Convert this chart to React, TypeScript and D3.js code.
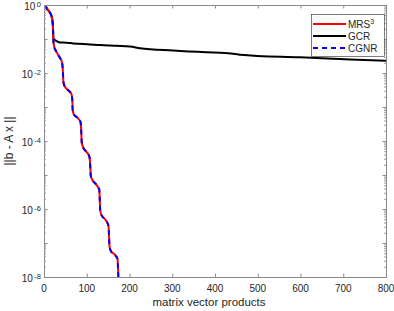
import React from "react";
import * as d3 from "d3";

// residual history: iteration count and log10 of ||b - Ax||
const mrsIter = [0, 10, 18, 21, 21.8, 23.4, 29.2, 37.4, 42.1, 44, 45.4, 48, 56, 64.3, 66.2, 67.1, 69.5, 78.4, 85.4, 87, 88.2, 91.2, 99.4, 106.4, 108, 109.5, 113.5, 122.8, 129.4, 130.5, 131.5, 134.5, 143.9, 150.9, 152, 153.2, 156.7, 166, 172, 173, 174];
const mrsLogRes = [0, -0.15, -0.35, -0.62, -1.03, -1.21, -1.38, -1.56, -1.68, -1.91, -2.26, -2.38, -2.5, -2.62, -2.79, -3.09, -3.21, -3.32, -3.44, -3.68, -4.03, -4.18, -4.32, -4.47, -4.71, -5.03, -5.15, -5.29, -5.44, -5.74, -6.03, -6.18, -6.32, -6.5, -6.76, -7.09, -7.24, -7.35, -7.47, -7.68, -8.05];

const gcrIter = [0, 2.3, 12.4, 18, 20.4, 21.8, 23.4, 29.7, 37.4, 53, 68.5, 107.6, 131, 170, 201, 224.6, 301.8, 380.6, 423, 458.5, 599, 716, 800];
const gcrLogRes = [0, -0.05, -0.2, -0.34, -0.54, -0.93, -1.01, -1.06, -1.1, -1.11, -1.13, -1.16, -1.18, -1.2, -1.22, -1.27, -1.34, -1.39, -1.41, -1.46, -1.54, -1.6, -1.64];

// CGNR lies on top of MRS^3
const cgnrIter = mrsIter;
const cgnrLogRes = mrsLogRes;

const xTicks = [0, 100, 200, 300, 400, 500, 600, 700, 800];
const yLabelExps = [0, -2, -4, -6, -8];

const W = 394;
const H = 311;
const margin = { top: 5, right: 8, bottom: 34, left: 44 };
const plotW = 386 - margin.left;
const plotH = 277 - margin.top;

const axisColor = "#262626";
const tickColor = "#8a8a8a";
const font = "'Liberation Sans', Arial, Helvetica, sans-serif";

export default function App() {
  const x = d3.scaleLinear().domain([0, 800]).range([0, plotW]);
  const y = d3.scaleLog().domain([1e-8, 1]).range([plotH, 0]);

  const line = d3
    .line<[number, number]>()
    .x((d) => x(d[0]))
    .y((d) => y(Math.pow(10, d[1])))
    .curve(d3.curveMonotoneX);

  const zip = (a: number[], b: number[]) => a.map((v, i) => [v, b[i]] as [number, number]);

  const majorY: number[] = [];
  const minorY: number[] = [];
  for (let e = -8; e <= 0; e++) {
    majorY.push(Math.pow(10, e));
    if (e < 0) for (let m = 2; m <= 9; m++) minorY.push(m * Math.pow(10, e));
  }

  const legendX = 311 - margin.left;
  const legendY = 14 - margin.top;

  return (
    <svg width={W} height={H} style={{ display: "block", position: "absolute", left: 0, top: 0 }} fontFamily={font}>
      <rect width={W} height={H} fill="#fff" />
      <defs>
        <clipPath id="plot-clip">
          <rect x={0} y={0} width={plotW} height={plotH} />
        </clipPath>
      </defs>
      <g transform={`translate(${margin.left},${margin.top})`}>
        <g clipPath="url(#plot-clip)" fill="none">
          <path d={line(zip(gcrIter, gcrLogRes)) || ""} stroke="#000" strokeWidth={2} />
          <path d={line(zip(mrsIter, mrsLogRes)) || ""} stroke="#ff0000" strokeWidth={2} />
          <path d={line(zip(cgnrIter, cgnrLogRes)) || ""} stroke="#0000ff" strokeWidth={2} strokeDasharray="5,4" />
        </g>

        {/* box */}
        <rect x={0.5} y={0.5} width={plotW} height={plotH} fill="none" stroke={tickColor} strokeWidth={1} />

        {/* x ticks */}
        {xTicks.map((t) => (
          <g key={"xt" + t}>
            <line x1={x(t) + 0.5} x2={x(t) + 0.5} y1={plotH} y2={plotH - 3.5} stroke={tickColor} />
            <line x1={x(t) + 0.5} x2={x(t) + 0.5} y1={0} y2={3.5} stroke={tickColor} />
            <text x={x(t)} y={plotH + 15} textAnchor="middle" fontSize={10} fill={axisColor}>
              {t}
            </text>
          </g>
        ))}

        {/* y ticks */}
        {majorY.map((v, i) => (
          <g key={"ym" + i}>
            <line x1={0} x2={3.5} y1={y(v) + 0.5} y2={y(v) + 0.5} stroke={tickColor} />
            <line x1={plotW} x2={plotW - 3.5} y1={y(v) + 0.5} y2={y(v) + 0.5} stroke={tickColor} />
          </g>
        ))}
        {minorY.map((v, i) => (
          <g key={"yn" + i}>
            <line x1={0} x2={2} y1={y(v) + 0.5} y2={y(v) + 0.5} stroke="#9a9a9a" />
            <line x1={plotW} x2={plotW - 2} y1={y(v) + 0.5} y2={y(v) + 0.5} stroke="#9a9a9a" />
          </g>
        ))}
        {yLabelExps.map((e) => (
          <text key={"yl" + e} x={-3} y={y(Math.pow(10, e)) + 5} textAnchor="end" fontSize={10} fill={axisColor}>
            10
            <tspan dx={1.5} dy={-3.5} fontSize={7.5}>
              {e}
            </tspan>
          </text>
        ))}

        {/* axis labels */}
        <text x={plotW / 2 - 6} y={plotH + 29} textAnchor="middle" fontSize={11.5} fill={axisColor}>
          matrix vector products
        </text>
        <text transform={`translate(${13 - margin.left},${plotH / 2}) rotate(-90)`} textAnchor="middle" fontSize={12} fill={axisColor}>
          ||b - A x ||
        </text>

        {/* legend */}
        <g transform={`translate(${legendX},${legendY})`}>
          <rect x={0.5} y={0.5} width={73} height={42} fill="#fff" stroke={axisColor} strokeWidth={0.6} />
          <line x1={2} x2={35} y1={10} y2={10} stroke="#ff0000" strokeWidth={2} />
          <text x={37} y={14} fontSize={10} fill={axisColor}>
            MRS<tspan dy={-4} fontSize={7}>3</tspan>
          </text>
          <line x1={2} x2={35} y1={22} y2={22} stroke="#000" strokeWidth={2} />
          <text x={37} y={26} fontSize={10} fill={axisColor}>
            GCR
          </text>
          <line x1={2} x2={35} y1={34} y2={34} stroke="#0000ff" strokeWidth={2} strokeDasharray="5,4" />
          <text x={37} y={38} fontSize={10} fill={axisColor}>
            CGNR
          </text>
        </g>
      </g>
    </svg>
  );
}
